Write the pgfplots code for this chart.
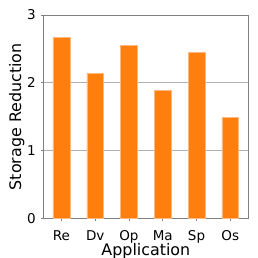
\documentclass[border=0pt]{standalone}
\usepackage{pgfplots}
\pgfplotsset{compat=1.18}
\usepackage{fontspec}
\setmainfont{DejaVu Sans}
\definecolor{barorange}{HTML}{FF7F0E}
\definecolor{baredge}{HTML}{FFB880}
\definecolor{spine}{HTML}{808080}
\definecolor{gridc}{HTML}{B0B0B0}
\begin{document}
\begin{tikzpicture}
\useasboundingbox (-43.7bp,-39.5bp) rectangle (214.3bp,218.5bp);
\begin{axis}[
  at={(0,0)}, anchor=south west,
  scale only axis,
  width=204.3bp, height=203.5bp,
  xmin=-0.525, xmax=5.525,
  ymin=0, ymax=3,
  xtick={0,1,2,3,4,5},
  xticklabels={Re,Dv,Op,Ma,Sp,Os},
  ytick={0,1,2,3},
  ymajorgrids,
  major grid style={gridc, line width=0.8pt},
  axis line style={spine, line width=0.8pt},
  tick style={spine, line width=0.8pt},
  tick align=outside,
  major tick length=2.5bp,
  xtick pos=bottom, ytick pos=left,
  /pgf/number format/assume math mode=true,
  tick label style={font=\fontsize{13.5bp}{15bp}\selectfont},
  x tick label style={anchor=base, yshift=-19.5bp},
  y tick label style={anchor=east, xshift=-2bp},
  label style={font=\fontsize{15.9bp}{18bp}\selectfont},
  xlabel={Application},
  ylabel={Storage Reduction},
  xlabel style={at={(axis description cs:0.5,-0.1828)}, anchor=base},
  ylabel style={at={(axis description cs:-0.111,0.5)}, anchor=base},
]
\addplot[ybar, bar width=0.5, fill=barorange, draw=baredge, line width=0.5pt]
  coordinates {(0,2.67) (1,2.14) (2,2.55) (3,1.89) (4,2.45) (5,1.49)};
\end{axis}
\end{tikzpicture}
\end{document}
